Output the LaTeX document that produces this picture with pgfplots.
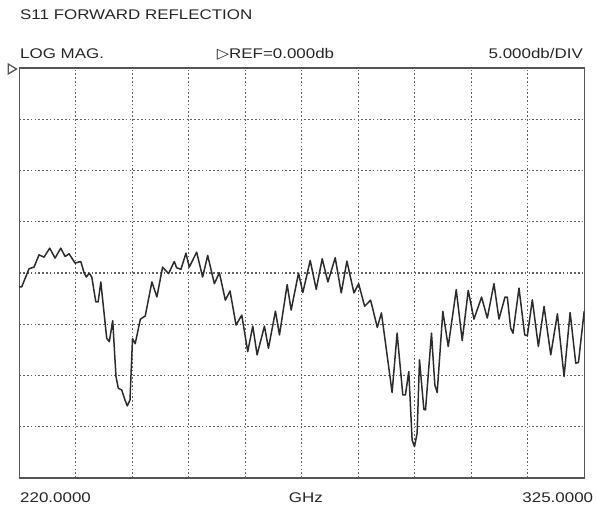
\documentclass[border=0pt]{standalone}
\usepackage{pgfplots}
\pgfplotsset{compat=1.18}
\usepackage{fontspec}
\setmainfont{Liberation Sans}[FakeStretch=1.21]
\newfontfamily\symfont{DejaVu Sans}[FakeStretch=1.1]
\definecolor{txt}{HTML}{262626}
\definecolor{frame}{HTML}{555555}
\definecolor{gridc}{HTML}{606060}
\definecolor{trace}{HTML}{2C2C2C}
\pgfplotstableread{
x y
220.00 -21.36
220.44 -21.36
221.81 -19.58
222.74 -19.42
223.67 -18.22
224.60 -18.45
225.65 -17.57
226.65 -18.54
227.70 -17.57
228.51 -18.38
229.25 -18.12
230.37 -19.03
231.43 -18.87
232.05 -20.00
232.48 -20.39
232.98 -20.00
233.47 -20.39
234.22 -22.82
234.65 -22.82
235.15 -20.87
236.24 -26.37
236.73 -26.70
237.36 -24.65
237.97 -30.12
238.40 -31.26
239.03 -31.42
239.64 -32.40
240.07 -32.98
240.57 -32.40
241.04 -26.40
241.54 -26.90
242.50 -24.50
243.40 -24.20
244.64 -20.87
245.57 -22.33
246.63 -19.42
247.74 -20.06
248.80 -18.87
249.23 -19.48
250.04 -19.64
250.97 -18.06
251.59 -19.42
252.96 -17.96
254.07 -20.39
255.01 -18.28
256.25 -21.04
257.18 -19.97
258.29 -22.65
259.16 -21.75
260.28 -25.08
261.34 -24.11
262.45 -27.67
263.39 -25.18
264.19 -27.99
265.56 -25.18
266.30 -27.35
267.60 -23.72
268.35 -26.05
269.78 -21.13
270.52 -23.62
271.89 -20.00
272.69 -21.91
274.06 -18.77
275.18 -21.59
276.29 -18.61
277.35 -20.87
278.71 -18.51
279.83 -21.94
280.88 -18.83
282.19 -21.94
283.06 -21.04
284.17 -23.24
285.29 -22.65
286.53 -25.31
287.30 -23.90
288.97 -30.44
289.28 -31.67
290.21 -25.87
291.27 -31.90
291.76 -31.90
292.38 -29.62
293.00 -36.31
293.44 -36.96
293.93 -35.65
294.37 -28.48
295.18 -33.31
295.49 -33.37
296.60 -25.87
297.22 -30.92
297.66 -31.67
298.71 -23.75
299.71 -27.17
301.20 -21.63
302.31 -26.59
303.43 -21.70
304.49 -24.50
305.91 -22.35
306.97 -24.40
308.21 -21.04
309.14 -24.50
310.26 -22.35
310.69 -22.35
311.31 -25.38
311.75 -25.87
312.86 -21.47
313.92 -26.03
314.41 -26.13
315.34 -22.61
316.46 -27.17
317.52 -23.26
318.76 -27.99
320.00 -23.98
321.24 -30.11
322.36 -23.85
323.41 -28.80
323.91 -28.74
324.97 -23.75
325.00 -24.24
}\trace
\begin{document}
\begin{tikzpicture}[x=1bp,y=1bp]
\useasboundingbox (0,0) rectangle (597,508);
\begin{axis}[
  at={(19.3bp,30.2bp)}, anchor=south west,
  scale only axis, width=565bp, height=409.5bp,
  xmin=220, xmax=325, ymin=-40, ymax=0,
  xtick={230.5,241,251.5,262,272.5,283,293.5,304,314.5},
  ytick={-35,-30,-25,-20,-15,-10,-5},
  xticklabels={}, yticklabels={},
  major tick length=0pt,
  grid=major,
  major grid style={gridc, line width=1.2bp, dash pattern=on 1.6bp off 2.2bp},
  axis line style={frame, line width=1.6bp},
  clip=true,
]
\addplot[trace, line width=1.5bp, line join=round] table[x=x,y=y] {\trace};
\end{axis}
\draw[frame, line width=1.3bp, line join=miter] (8.2,444) -- (16.5,439) -- (8.2,434) -- cycle;
\begin{scope}[every node/.style={inner sep=0pt, text=txt, font=\fontsize{14bp}{16bp}\selectfont}]
\node[anchor=base west] at (20,488.7) {S11 FORWARD REFLECTION};
\node[anchor=base west] at (20,449.7) {LOG MAG.};
\node[anchor=base west] at (216.7,449.7) {{\symfont\fontsize{14.5bp}{16bp}\selectfont ▷}REF=0.000db};
\node[anchor=base east] at (583,449.7) {5.000db/DIV};
\node[anchor=base west] at (20,5) {220.0000};
\node[anchor=base] at (305.8,5) {GHz};
\node[anchor=base east] at (593.3,5) {325.0000};
\end{scope}
\end{tikzpicture}
\end{document}
